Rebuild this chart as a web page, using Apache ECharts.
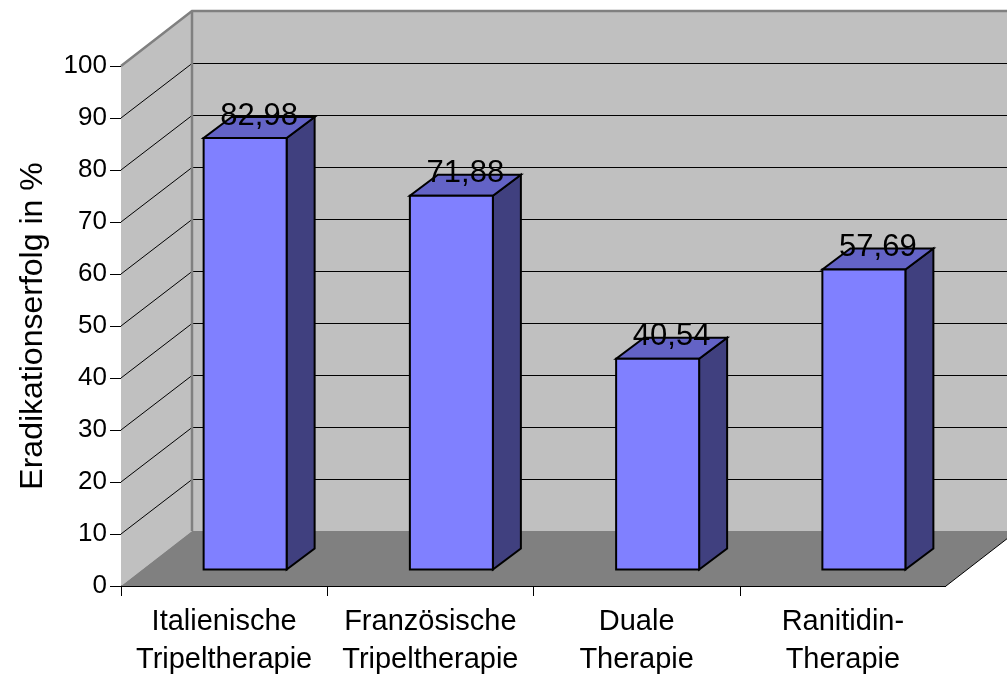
<!DOCTYPE html>
<html><head><meta charset="utf-8">
<script src="https://cdn.jsdelivr.net/npm/echarts@6/dist/echarts.min.js"></script>
<style>html,body{margin:0;padding:0;background:#fff}#c{width:1007px;height:675px}</style>
</head><body><div id="c"></div>
<script>
// ---- data ----
const categories = ['Italienische\nTripeltherapie', 'Französische\nTripeltherapie', 'Duale\nTherapie', 'Ranitidin-\nTherapie'];
const values = [82.98, 71.88, 40.54, 57.69];
const yTicks = [0, 10, 20, 30, 40, 50, 60, 70, 80, 90, 100];
const yTitle = 'Eradikationserfolg in %';

// ---- style constants ----
const FONT = 'Liberation Sans, Arial, sans-serif';
const WALL_DX = 71, WALL_DY = -55;      // depth of the 3D box
const BAR_OFF_X = 21, BAR_OFF_Y = -16.5; // bar front plane offset
const BAR_DX = 28, BAR_DY = -21;        // bar depth
const BAR_HALF = 41.5;

function fmt(v) { return v.toFixed(2).replace('.', ','); }
function px(v) { return Math.round(v) + 0.5; }

function renderBg(params, api) {
  const cs = params.coordSys;
  const x0 = cs.x, x1 = cs.x + cs.width;
  const yb = api.coord([0, yTicks[0]])[1];
  const yt = api.coord([0, yTicks[yTicks.length - 1]])[1];
  const ch = [];
  ch.push({ type: 'polygon', shape: { points: [[x0, yt], [x0 + WALL_DX, yt + WALL_DY], [x0 + WALL_DX, yb + WALL_DY], [x0, yb]] }, style: { fill: '#c0c0c0' } });
  ch.push({ type: 'rect', shape: { x: x0 + WALL_DX, y: yt + WALL_DY, width: x1 - x0 + 20, height: yb - yt }, style: { fill: '#c0c0c0' } });
  ch.push({ type: 'polygon', shape: { points: [[x0, yb], [x0 + WALL_DX, yb + WALL_DY], [x1 + WALL_DX + 20, yb + WALL_DY], [x1 + 20, yb]] }, style: { fill: '#808080' } });
  ch.push({ type: 'rect', shape: { x: x1, y: yb, width: 100, height: 100 }, style: { fill: '#ffffff' } });
  ch.push({ type: 'polygon', shape: { points: [[x1, yb], [x1 + WALL_DX + 40, yb + WALL_DY - 31], [x1 + 100, yb]] }, style: { fill: '#ffffff' } });
  for (let i = 1; i < yTicks.length - 1; i++) {
    const y = api.coord([0, yTicks[i]])[1];
    const yf = Math.round(y), yw = px(y + WALL_DY);
    ch.push({ type: 'polyline', shape: { points: [[x0, yf], [x0 + WALL_DX, yw], [x1 + WALL_DX + 20, yw]] }, style: { stroke: '#000', lineWidth: 1, fill: null } });
  }
  ch.push({ type: 'polyline', shape: { points: [[x0, yt], [x0 + WALL_DX, yt + WALL_DY], [x1 + WALL_DX + 20, yt + WALL_DY]] }, style: { stroke: '#808080', lineWidth: 2.5, fill: null } });
  ch.push({ type: 'line', shape: { x1: x0 + WALL_DX, y1: yt + WALL_DY, x2: x0 + WALL_DX, y2: yb + WALL_DY }, style: { stroke: '#808080', lineWidth: 2.5 } });
  ch.push({ type: 'line', shape: { x1: x1, y1: yb, x2: x1 + WALL_DX, y2: yb + WALL_DY }, style: { stroke: '#000', lineWidth: 1 } });
  return { type: 'group', children: ch };
}

function renderBar(params, api) {
  const idx = api.value(0), v = api.value(1);
  const top = api.coord([idx, v]);
  const base = api.coord([idx, 0]);
  const cx = top[0] + BAR_OFF_X;
  const fy0 = base[1] + BAR_OFF_Y, fy1 = top[1] + BAR_OFF_Y;
  const l = cx - BAR_HALF, r = cx + BAR_HALF;
  const edge = { stroke: '#000', lineWidth: 2, lineJoin: 'miter' };
  return {
    type: 'group',
    children: [
      { type: 'polygon', shape: { points: [[r, fy1], [r + BAR_DX, fy1 + BAR_DY], [r + BAR_DX, fy0 + BAR_DY], [r, fy0]] }, style: Object.assign({ fill: '#40407f' }, edge) },
      { type: 'polygon', shape: { points: [[l, fy1], [r, fy1], [r + BAR_DX, fy1 + BAR_DY], [l + BAR_DX, fy1 + BAR_DY]] }, style: Object.assign({ fill: '#6363c6' }, edge) },
      { type: 'rect', shape: { x: l, y: fy1, width: r - l, height: fy0 - fy1 }, style: Object.assign({ fill: '#8080ff' }, edge) },
      { type: 'text', x: cx + BAR_DX / 2, y: fy1 + BAR_DY - 1, style: { text: fmt(v), fill: '#000', font: '31px ' + FONT, align: 'center', verticalAlign: 'middle' } }
    ]
  };
}

const chart = echarts.init(document.getElementById('c'), null, { renderer: 'canvas' });
chart.setOption({
  animation: false,
  backgroundColor: '#ffffff',
  grid: { left: 121, right: 61, top: 66, bottom: 89, containLabel: false, outerBoundsMode: 'none' },
  xAxis: {
    type: 'category', data: categories, boundaryGap: true,
    axisLine: { show: true, lineStyle: { color: '#000', width: 1 } },
    axisTick: { show: true, length: 10, lineStyle: { color: '#000' } },
    axisLabel: { color: '#000', fontSize: 29, fontFamily: FONT, lineHeight: 38, margin: 17, interval: 0 },
    splitLine: { show: false }
  },
  yAxis: {
    type: 'value', min: 0, max: 100, interval: 10,
    name: yTitle, nameLocation: 'middle', nameGap: 72,
    nameTextStyle: { color: '#000', fontSize: 32, fontFamily: FONT },
    axisLine: { show: true, lineStyle: { color: '#000', width: 1 } },
    axisTick: { show: true, length: 11, lineStyle: { color: '#000' } },
    axisLabel: { color: '#000', fontSize: 26, fontFamily: FONT, margin: 14 },
    splitLine: { show: false }
  },
  series: [
    { type: 'custom', renderItem: renderBg, data: [[0, 0]], z: 1, silent: true, clip: false },
    { type: 'custom', renderItem: renderBar, data: values.map((v, i) => [i, v]), z: 3, clip: false }
  ]
});
</script>
</body></html>
